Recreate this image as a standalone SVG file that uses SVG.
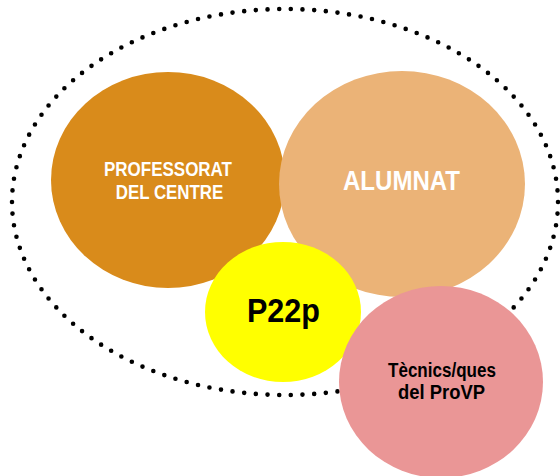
<svg xmlns="http://www.w3.org/2000/svg" width="560" height="476" viewBox="0 0 560 476">
<style>
.lbl{font-family:"Liberation Sans Narrow","Liberation Sans",Arial,sans-serif;text-anchor:middle;font-weight:bold}
.w{fill:#ffffff}
.k{fill:#000000}
</style>
<rect width="560" height="476" fill="#ffffff"/>
<g id="connectors">
<ellipse cx="285" cy="202" rx="273" ry="193" fill="none" stroke="#000" stroke-width="4.6" stroke-linecap="round" stroke-dasharray="0 11.7"/>
</g>
<g id="professorat">
<ellipse cx="168" cy="180" rx="117" ry="108" fill="#D98B1B"/>
<text class="lbl w" x="168" y="176" font-size="20" textLength="128" lengthAdjust="spacingAndGlyphs">PROFESSORAT</text>
<text class="lbl w" x="169.5" y="198.5" font-size="20" textLength="107.5" lengthAdjust="spacingAndGlyphs">DEL CENTRE</text>
</g>
<g id="alumnat">
<ellipse cx="402" cy="184" rx="123" ry="113" fill="#EBB377"/>
<text class="lbl w" x="401.5" y="189.5" font-size="28" textLength="117" lengthAdjust="spacingAndGlyphs">ALUMNAT</text>
</g>
<g id="p22p">
<ellipse cx="283" cy="312" rx="78" ry="70" fill="#FFFF00"/>
<text class="lbl k" x="283.5" y="322.3" font-size="34" textLength="73" lengthAdjust="spacingAndGlyphs">P22p</text>
</g>
<g id="tecnics">
<ellipse cx="441" cy="382" rx="102" ry="96" fill="#EA9696"/>
<text class="lbl k" x="442" y="376.5" font-size="19.5" textLength="108" lengthAdjust="spacingAndGlyphs">Tècnics/ques</text>
<text class="lbl k" x="441.5" y="399" font-size="19.5" textLength="87" lengthAdjust="spacingAndGlyphs">del  ProVP</text>
</g>
</svg>
